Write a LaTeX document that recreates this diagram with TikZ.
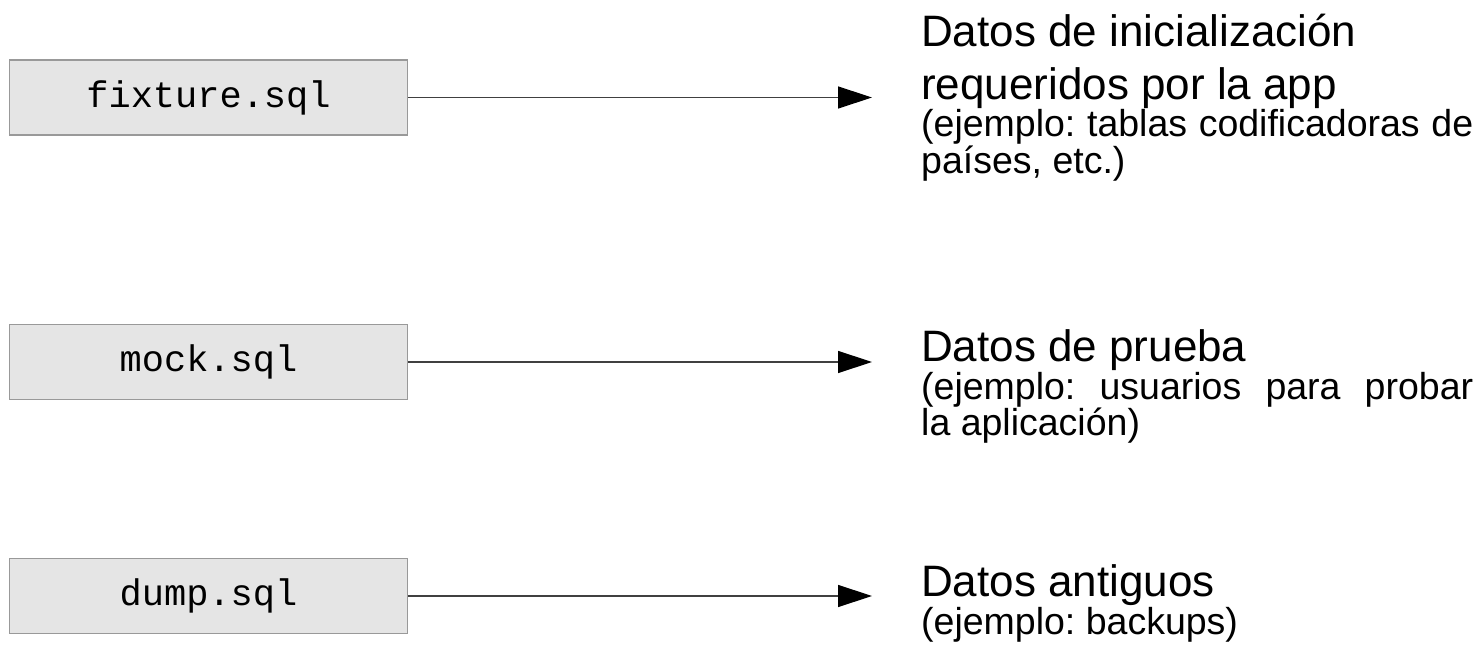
\documentclass[tikz,border=0pt]{standalone}
\usepackage{fontspec}
\setmainfont{Liberation Sans}
\setmonofont{Liberation Mono}
\usetikzlibrary{arrows.meta,positioning}
\setlength{\parindent}{0pt}
\frenchspacing

\newcommand{\titlesize}{\fontsize{44}{53}\selectfont}
\newcommand{\notesize}{\fontsize{37.5}{42.5}\selectfont}

\begin{document}
\begin{tikzpicture}[x=1pt,y=1pt,>={Triangle[length=34pt,width=22pt,color=black]}]
    % sql files on the left, what they hold on the right
    \tikzstyle{sqlfile}=[rectangle,draw=black!40,line width=1.2pt,fill=black!10,
    minimum width=398pt,minimum height=75pt,font=\ttfamily\fontsize{37}{40}\selectfont]
    \tikzstyle{info}=[anchor=base west,inner sep=0pt,text width=552pt,align=justify]
    \tikzstyle{feed}=[->,draw=black!75,line width=1.3pt,shorten >=49pt]

    \useasboundingbox (0,0) rectangle (1477,648);

    \node [sqlfile] (fixture) at (208.5,550.5) {fixture.sql};
    \node [sqlfile] (mock)    at (208.5,286)   {mock.sql};
    \node [sqlfile] (dump)    at (208.5,52)    {dump.sql};

    \node [info] (fixture-info) at (921,601.3)
      {\titlesize Datos de inicialización\\requeridos por la app\par
       \notesize (ejemplo: tablas codificadoras de\linebreak países, etc.)};
    \node [info] (mock-info) at (921,286.3)
      {\titlesize Datos de prueba\par
       \notesize (ejemplo: usuarios para probar\linebreak la aplicación)};
    \node [info] (dump-info) at (921,51.3)
      {\titlesize Datos antiguos\par
       \notesize (ejemplo: backups)};

    \draw [feed] (fixture) -- (fixture -| fixture-info.west);
    \draw [feed] (mock)    -- (mock -| mock-info.west);
    \draw [feed] (dump)    -- (dump -| dump-info.west);
  \end{tikzpicture}
\end{document}
